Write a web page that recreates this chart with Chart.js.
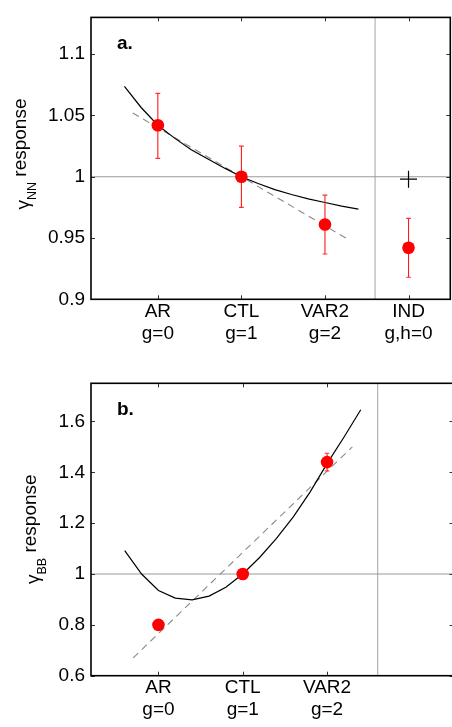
<!DOCTYPE html>
<html>
<head>
<meta charset="utf-8">
<script src="https://cdn.jsdelivr.net/npm/chart.js@4.4.0/dist/chart.umd.min.js"></script>
<style>
html, body { margin:0; padding:0; background:#fff; overflow:hidden; width:452px; height:727px; }
canvas { position:absolute; left:0; }
#nn_chart { top:0; }
#bb_chart { top:355px; }
</style>
</head>
<body>
<canvas id="nn_chart" width="460" height="355"></canvas>
<canvas id="bb_chart" width="460" height="372"></canvas>
<script>
// experiments along x (g value); IND only exists in panel a
var cat_pos = [0, 1, 2, 3];
var cat_labels = [['AR', 'g=0'], ['CTL', 'g=1'], ['VAR2', 'g=2'], ['IND', 'g,h=0']];

// panel a: gamma_NN response
var nn_mean = [1.042, 1.000, 0.961, 0.942];
var nn_low  = [1.015, 0.975, 0.937, 0.918];
var nn_high = [1.068, 1.025, 0.985, 0.966];
var nn_ind_cross = 0.998;
var fit_g  = [-0.4, -0.2, 0, 0.2, 0.4, 0.6, 0.8, 1.0, 1.2, 1.4, 1.6, 1.8, 2.0, 2.2, 2.4];
var nn_fit = [1.0737, 1.0565, 1.042, 1.0315, 1.022, 1.0145, 1.007, 1.000, 0.9945, 0.9895, 0.9855, 0.982, 0.979, 0.976, 0.9735];
var lin_g  = [-0.3, 2.3];
var nn_lin = [1.052, 0.948];
var nn_yticks = [0.9, 0.95, 1, 1.05, 1.1];
var nn_ylabels = ['0.9', '0.95', '1', '1.05', '1.1'];

// panel b: gamma_BB response
var bb_mean = [0.80, 1.00, 1.44];
var bb_low  = [0.80, 1.00, 1.405];
var bb_high = [0.80, 1.00, 1.475];
var bb_fit = [1.092, 1.0, 0.935, 0.905, 0.898, 0.913, 0.948, 1.0, 1.065, 1.14, 1.225, 1.323, 1.434, 1.538, 1.646];
var bb_lin = [0.67, 1.50];
var bb_yticks = [0.6, 0.8, 1, 1.2, 1.4, 1.6];
var bb_ylabels = ['0.6', '0.8', '1', '1.2', '1.4', '1.6'];

var FONT = '"Liberation Sans", Arial, Helvetica, sans-serif';
var X_MIN = -0.8, X_MAX = 3.5, X_SPLIT = 2.6;

function pts(xs, ys){
    return xs.map(function(x, i){ return {x: x, y: ys[i]}; });
}

function errbars(xs, lo, hi){
    var d = [];
    for (var i = 0; i < lo.length; i++){
        d.push({x: xs[i], y: lo[i]}, {x: xs[i], y: hi[i]}, {x: xs[i], y: null});
    }
    return d;
}

function frame_plugin(cfg){
    return {
        id: 'frame',
        afterDraw: function(chart){
            var ctx = chart.ctx, a = chart.chartArea;
            var xs = chart.scales.x, ys = chart.scales.y;
            ctx.save();
            // inward ticks
            ctx.strokeStyle = '#333';
            ctx.lineWidth = 1;
            ctx.beginPath();
            cfg.yticks.forEach(function(v){
                var p = Math.round(ys.getPixelForValue(v)) + 0.5;
                ctx.moveTo(a.left, p); ctx.lineTo(a.left + 4, p);
                ctx.moveTo(a.right, p); ctx.lineTo(a.right - 4, p);
            });
            cfg.xticks.forEach(function(v){
                var p = Math.round(xs.getPixelForValue(v)) + 0.5;
                ctx.moveTo(p, a.bottom); ctx.lineTo(p, a.bottom - 4);
                ctx.moveTo(p, a.top); ctx.lineTo(p, a.top + 4);
            });
            ctx.stroke();
            // box
            ctx.strokeStyle = '#000';
            ctx.lineWidth = 1.6;
            ctx.strokeRect(a.left, a.top, a.right - a.left, a.bottom - a.top);
            // panel letter
            ctx.fillStyle = '#000';
            ctx.font = 'bold 19px ' + FONT;
            ctx.textBaseline = 'alphabetic';
            ctx.textAlign = 'left';
            ctx.fillText(cfg.letter, a.left + 26, a.top + 32);
            // y title, gamma with subscript
            var parts = [['\u03b3', '19px ', 3], [cfg.sub, '12.5px ', 10], [' response', '19px ', 0]];
            var total = 0;
            parts.forEach(function(p){ ctx.font = p[1] + FONT; p.push(ctx.measureText(p[0]).width); total += p[3]; });
            ctx.translate(cfg.title_x, cfg.title_y);
            ctx.rotate(-Math.PI / 2);
            var pos = -total / 2;
            parts.forEach(function(p){
                ctx.font = p[1] + FONT;
                ctx.fillText(p[0], pos, p[2]);
                pos += p[3];
            });
            ctx.restore();
        }
    };
}

function make_chart(id, cfg){
    var ctx = document.getElementById(id).getContext('2d');
    return new Chart(ctx, {
        type: 'scatter',
        data: { datasets: cfg.datasets },
        options: {
            responsive: false,
            animation: false,
            events: [],
            layout: { padding: { left: 0, right: 6.5, top: cfg.top, bottom: 0 } },
            plugins: { legend: { display: false }, tooltip: { enabled: false } },
            scales: {
                x: {
                    type: 'linear',
                    min: X_MIN, max: X_MAX,
                    grid: { display: false, drawTicks: false, tickLength: 0 },
                    border: { display: false },
                    afterBuildTicks: function(scale){
                        scale.ticks = cfg.xticks.map(function(v){ return {value: v}; });
                    },
                    afterFit: function(scale){ scale.height = cfg.xh; },
                    ticks: {
                        autoSkip: false,
                        maxRotation: 0,
                        padding: 1.5,
                        color: '#000',
                        font: { family: FONT, size: 19, lineHeight: 22 / 19 },
                        callback: function(v, i){ return cat_labels[i]; }
                    }
                },
                y: {
                    type: 'linear',
                    min: cfg.ymin, max: cfg.ymax,
                    grid: { display: false, drawTicks: false, tickLength: 0 },
                    border: { display: false },
                    afterBuildTicks: function(scale){
                        scale.ticks = cfg.yticks.map(function(v){ return {value: v}; });
                    },
                    afterFit: function(scale){ scale.width = 91; },
                    ticks: {
                        padding: 6,
                        color: '#000',
                        font: { family: FONT, size: 19 },
                        callback: function(v, i){ return cfg.ylabels[i]; }
                    }
                }
            }
        },
        plugins: [frame_plugin(cfg)]
    });
}

function build_sets(mean, low, high, fit, lin, ymin, ymax, cross){
    var n = mean.length;
    var sets = [
        { data: pts(cat_pos.slice(0, n), mean), pointRadius: 6.3, pointBackgroundColor: '#ff0000', pointBorderWidth: 0, showLine: false }
    ];
    if (cross !== null){
        sets.push({ data: [{x: cat_pos[3], y: cross}], pointStyle: 'cross', pointRadius: 8.5, pointBorderColor: '#000', pointBorderWidth: 1.2, showLine: false });
    }
    sets.push(
        { data: errbars(cat_pos, low, high), showLine: true, borderColor: '#ff1a1a', borderWidth: 1.1,
          pointStyle: 'line', pointRadius: 2.4, pointBorderColor: '#ff3030', pointBorderWidth: 1.1 },
        { data: pts(fit_g, fit), showLine: true, borderColor: '#000', borderWidth: 1.2, pointRadius: 0, tension: 0 },
        { data: pts(lin_g, lin), showLine: true, borderColor: '#8a8a8a', borderWidth: 1.1, borderDash: [7, 5], pointRadius: 0 },
        { data: [{x: X_MIN, y: 1}, {x: X_MAX, y: 1}], showLine: true, borderColor: '#9a9a9a', borderWidth: 1.1, pointRadius: 0 },
        { data: [{x: X_SPLIT, y: ymin}, {x: X_SPLIT, y: ymax}], showLine: true, borderColor: '#b8b8b8', borderWidth: 1.3, pointRadius: 0 }
    );
    return sets;
}

var nn_chart = make_chart('nn_chart', {
    top: 6, xh: 355 - 299.3, ymin: 0.9, ymax: 1.13,
    xticks: cat_pos, yticks: nn_yticks, ylabels: nn_ylabels,
    letter: 'a.', sub: 'NN', title_x: 26, title_y: 154,
    datasets: build_sets(nn_mean, nn_low, nn_high, nn_fit, nn_lin, 0.9, 1.13, nn_ind_cross)
});

var bb_chart = make_chart('bb_chart', {
    top: 28.3, xh: 51.3, ymin: 0.6, ymax: 1.75,
    xticks: cat_pos.slice(0, 3), yticks: bb_yticks, ylabels: bb_ylabels,
    letter: 'b.', sub: 'BB', title_x: 35.5, title_y: 174.2,
    datasets: build_sets(bb_mean, bb_low, bb_high, bb_fit, bb_lin, 0.6, 1.75, null)
});
</script>
</body>
</html>
